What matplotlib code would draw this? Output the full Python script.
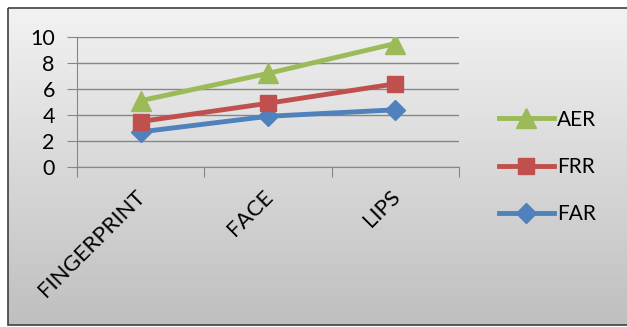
import numpy as np
import matplotlib
matplotlib.use("Agg")
import matplotlib.pyplot as plt
from matplotlib.patches import Rectangle

# --- data ---
categories = ["FINGERPRINT", "FACE", "LIPS"]
far = [2.7, 3.9, 4.4]
frr = [3.5, 4.9, 6.4]
aer = [5.1, 7.2, 9.5]
y_ticks = [0, 2, 4, 6, 8, 10]

plt.rcParams['font.family'] = ['Lato', 'DejaVu Sans']

W, H = 627, 327
fig = plt.figure(figsize=(W / 100, H / 100), dpi=100)
fig.patch.set_facecolor('white')

# gradient chart-area background with dark frame
bg = fig.add_axes([0, 0, 1, 1], zorder=0)
bg.set_xlim(0, W)
bg.set_ylim(H, 0)
bg.axis('off')
grad = np.linspace(0, 1, 256).reshape(-1, 1)
top, bot = np.array([0.95, 0.95, 0.95]), np.array([0.75, 0.75, 0.75])
img = top + (bot - top) * grad[..., None]
bg.imshow(img, extent=[8, W + 2, 325, 8], aspect='auto')
bg.add_patch(Rectangle((8, 8), W, 317, fill=False, edgecolor='#404040', lw=1.2))

ax = fig.add_axes([77 / W, 1 - 167 / H, (459 - 77) / W, (167 - 37) / H], zorder=1)
ax.patch.set_alpha(0)

x = np.arange(len(categories))
ax.plot(x, far, color='#4F81BD', lw=3.5, marker='D', ms=10, label='FAR', zorder=3)
ax.plot(x, frr, color='#C0504D', lw=3.5, marker='s', ms=11, label='FRR', zorder=4)
ax.plot(x, aer, color='#9BBB59', lw=3.5, marker='^', ms=14, label='AER', zorder=5)

ax.set_xlim(-0.5, 2.5)
ax.set_ylim(0, 10)
ax.set_yticks(y_ticks)
ax.set_yticklabels([str(v) for v in y_ticks], fontsize=15.5)
ax.set_xticks([-0.5, 0.5, 1.5, 2.5])
ax.set_xticklabels([])
ax.grid(axis='y', color='#868686', lw=1)
ax.set_axisbelow(True)
for s in ['top', 'right']:
    ax.spines[s].set_visible(False)
for s in ['left', 'bottom']:
    ax.spines[s].set_color('#868686')
ax.tick_params(axis='y', length=7, color='#868686', pad=9)
ax.tick_params(axis='x', length=7, color='#868686')

for i, c in enumerate(categories):
    ax.annotate(c, xy=(i, 0), xytext=(-4, -14), textcoords='offset points',
                rotation=45, ha='right', va='top', fontsize=16,
                rotation_mode='anchor', annotation_clip=False)

h, l = ax.get_legend_handles_labels()
leg = fig.legend(h[::-1], l[::-1], loc='center left', bbox_to_anchor=(480 / W, 1 - 167 / H),
                 frameon=False, fontsize=15, handlelength=2.65, labelspacing=1.32,
                 handletextpad=0.15)

fig.savefig('out.png', dpi=100)
